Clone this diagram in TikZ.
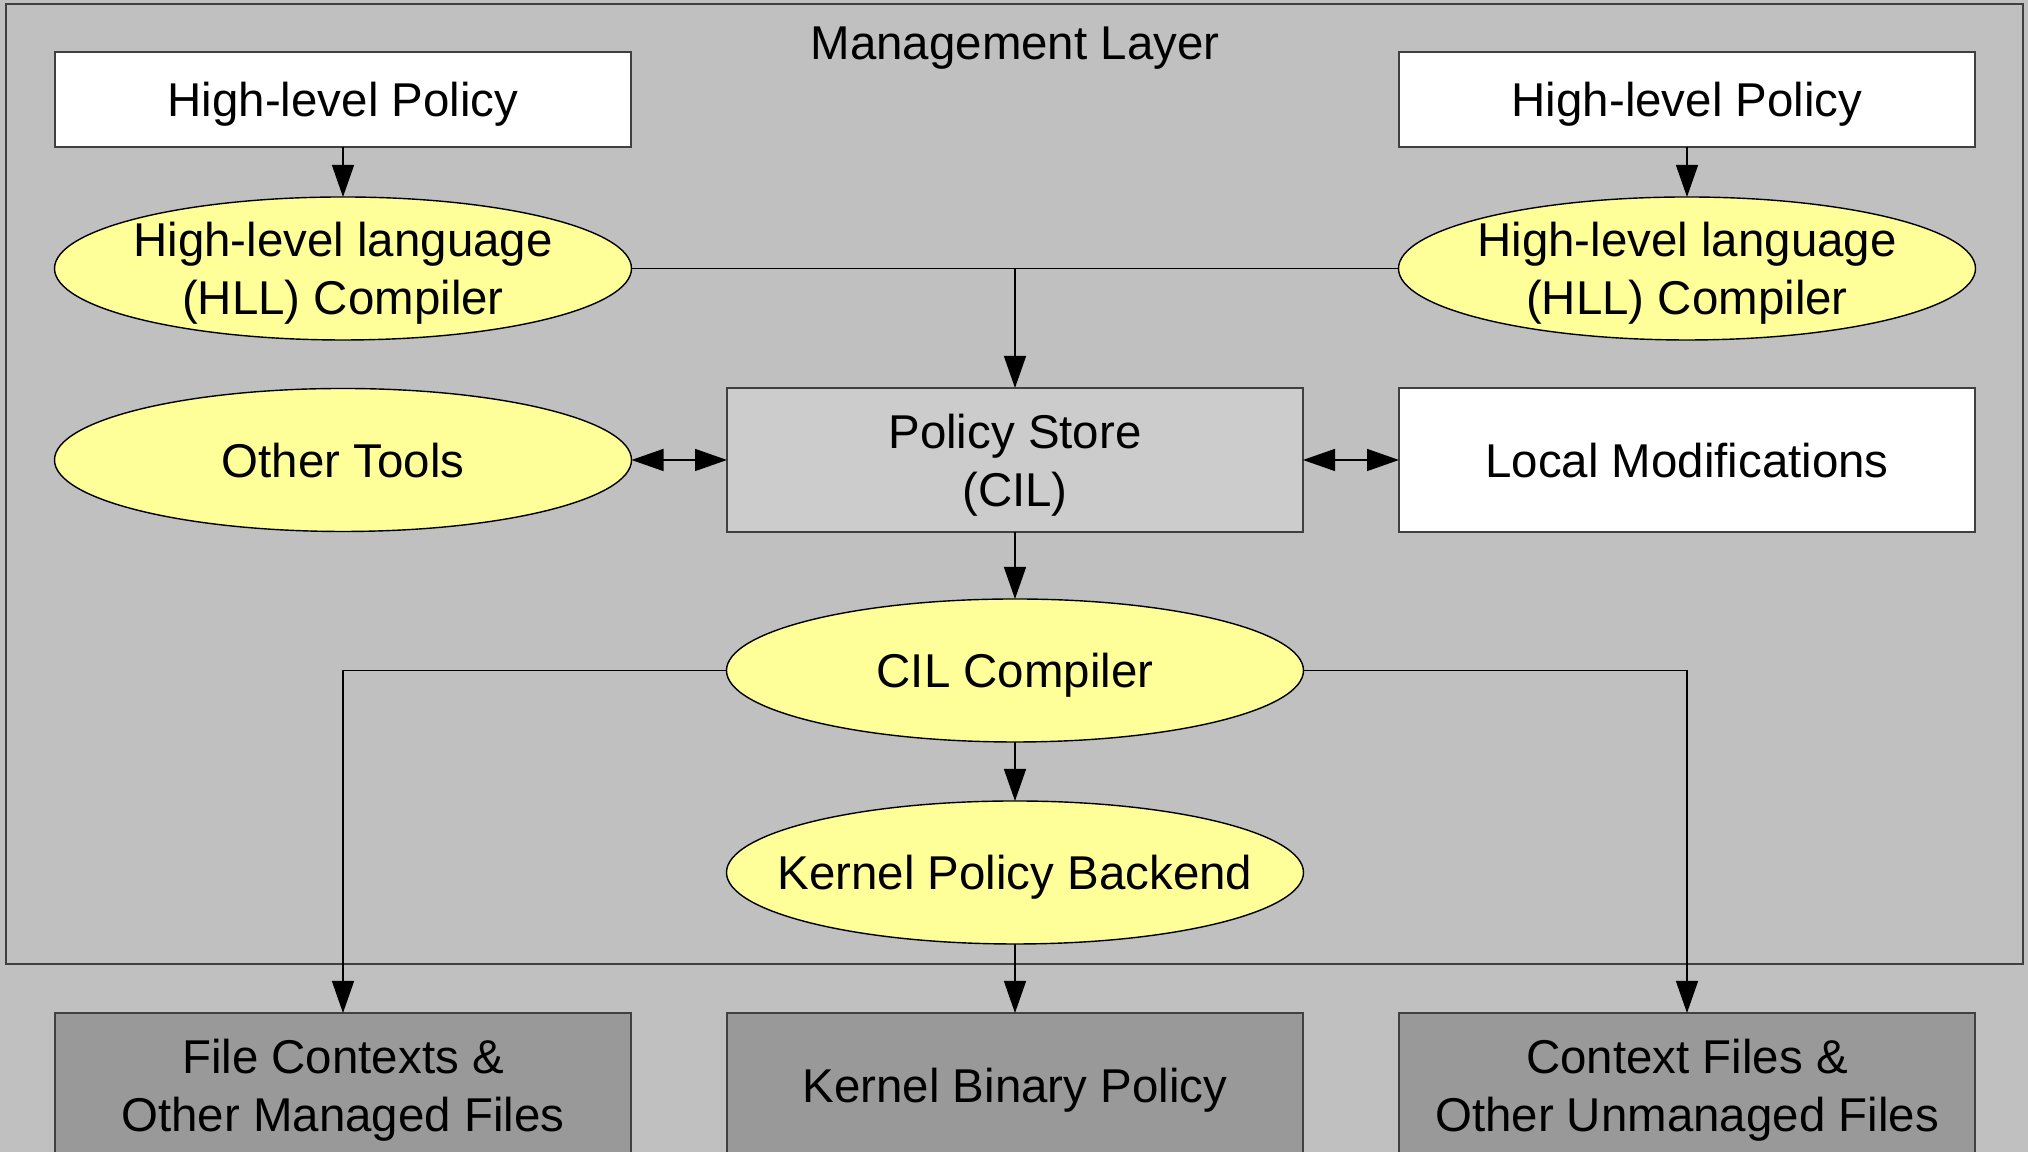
\documentclass[tikz,border=0pt]{standalone}
\usepackage{fontspec}
\setmainfont{Liberation Sans}
\usetikzlibrary{arrows.meta,shapes.geometric}
\definecolor{layergray}{HTML}{C0C0C0}
\definecolor{storegray}{HTML}{CCCCCC}
\definecolor{filegray}{HTML}{999999}
\definecolor{toolyellow}{HTML}{FFFF99}
\begin{document}
\begin{tikzpicture}[
    font=\fontsize{13.5}{16.5}\selectfont,
    every node/.append style={text depth=0pt},
    box/.style={draw=black!75, line width=0.4pt, align=center, inner sep=0pt, outer sep=0pt,
      minimum width=5.76cm, minimum height=1.44cm},
    tool/.style={ellipse, draw=black, fill=toolyellow, line width=0.4pt, align=center, outer sep=0pt,
      inner xsep=-0.5cm, inner ysep=-0.2cm, minimum width=5.77cm, minimum height=1.43cm},
    arr/.style={-{Triangle[length=3.2mm,width=2.2mm]}, line width=0.4pt},
    dbl/.style={{Triangle[length=3.2mm,width=2.2mm]}-{Triangle[length=3.2mm,width=2.2mm]}, line width=0.4pt}
  ]
    \useasboundingbox (0,0) rectangle (20.28,11.52);
    \fill[layergray] (0,0) rectangle (20.28,11.52);
    \node[draw=black!75, line width=0.4pt, inner sep=0pt, outer sep=0pt,
      minimum width=20.17cm, minimum height=9.6cm] (layer) at (10.145,6.68) {};
    \node (title) at (10.15,11.09) {Management Layer};

    \node[box, fill=white, minimum height=0.95cm] (hlpL) at (3.43,10.525) {High-level Policy};
    \node[box, fill=white, minimum height=0.95cm] (hlpR) at (16.87,10.525) {High-level Policy};
    \node[tool] (hllL) at (3.43,8.835) {High-level language\\(HLL) Compiler};
    \node[tool] (hllR) at (16.87,8.835) {High-level language\\(HLL) Compiler};

    \node[tool] (other) at (3.43,6.92) {Other Tools};
    \node[box, fill=storegray] (store) at (10.15,6.92) {Policy Store\\(CIL)};
    \node[box, fill=white] (local) at (16.87,6.92) {Local Modifications};

    \node[tool] (cil) at (10.15,4.815) {CIL Compiler};
    \node[tool] (backend) at (10.15,2.795) {Kernel Policy Backend};

    \node[box, fill=filegray] (filesL) at (3.43,0.67) {File Contexts \&\\Other Managed Files};
    \node[box, fill=filegray] (binary) at (10.15,0.67) {Kernel Binary Policy};
    \node[box, fill=filegray] (filesR) at (16.87,0.67) {Context Files \&\\Other Unmanaged Files};

    \draw[arr] (hlpL) -- (hllL);
    \draw[arr] (hlpR) -- (hllR);
    \draw[line width=0.4pt] (hllL.east) -- (hllR.west);
    \draw[arr] (hllL.east -| store.north) -- (store.north);
    \draw[dbl] (other) -- (store);
    \draw[dbl] (store) -- (local);
    \draw[arr] (store) -- (cil);
    \draw[arr] (cil) -- (backend);
    \draw[arr] (backend) -- (binary);
    \draw[arr] (cil.west) -| (filesL.north);
    \draw[arr] (cil.east) -| (filesR.north);
\end{tikzpicture}
\end{document}
